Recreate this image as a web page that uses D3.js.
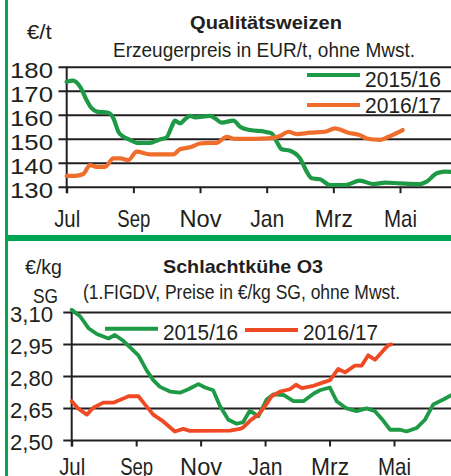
<!DOCTYPE html>
<html>
<head>
<meta charset="utf-8" />
<style>
body { margin:0; background:#fff; }
svg { display:block; }
text { font-family: "Liberation Sans", Arial, sans-serif; fill:#231f20; }
.grid line { stroke:#231f20; stroke-width:2; }
</style>
</head>
<body>
<svg id="chart" width="451" height="476" xmlns="http://www.w3.org/2000/svg"></svg>
<script src="https://cdn.jsdelivr.net/npm/d3@7"></script>
<script>

// month labels (every second month from Jul)
var monthLabels = ["Jul","Sep","Nov","Jan","Mrz","Mai"];
var monthTicks = [0,2,4,6,8,10];

// Qualitaetsweizen, EUR/t  (x = months since 1 July)
var wheatTicks = [130,140,150,160,170,180];
var wheatM15 = [0,0.19,0.4,0.6,0.75,0.9,1.25,1.4,1.55,1.7,1.9,2.1,2.5,2.75,3.0,3.15,3.25,3.4,3.55,3.7,3.85,4.3,4.45,4.65,5.0,5.2,5.5,5.95,6.15,6.3,6.45,6.7,7.0,7.2,7.35,7.6,7.9,8.35,8.8,9.2,9.55,10.0,10.6,10.8,11.1,11.35,11.65];
var wheatV15 = [173.7,174.2,171.7,166,162.7,161.3,160.8,158.5,152.9,150.8,149.5,148.3,148.3,149.5,150.6,155,157.5,156.4,158.1,159.5,158.9,159.5,158.5,156.7,157.5,155,153.6,152.9,152.2,148.8,145.6,145,141.8,136.3,133.5,133.1,130.7,130.7,132.5,131.1,131.7,131.4,131.1,132.1,135.6,136.3,136];
var wheatM16 = [0,0.25,0.5,0.7,0.9,1.15,1.4,1.6,1.85,2.1,2.5,3.2,3.4,3.7,4.0,4.3,4.5,4.8,5.05,5.65,6.05,6.4,6.65,6.9,7.3,7.75,8.05,8.45,8.8,9.0,9.4,9.7,10.08];
var wheatV16 = [134.5,134.5,135.3,139,138.3,138.3,141.8,141.8,141.1,144.6,143.5,143.5,145.6,146.4,148,148.3,148.3,150.8,149.9,149.9,150.1,151.1,152.9,151.9,152.5,152.9,154.3,152.5,151.5,150.1,149.5,151.1,153.6];

// Schlachtkuehe O3, EUR/kg SG
var cowTicks = [2.50,2.65,2.80,2.95,3.10];
var cowM15 = [0,0.26,0.52,0.78,1.14,1.34,1.6,2.07,2.33,2.53,2.74,3.05,3.36,3.62,3.93,4.14,4.39,4.6,4.86,5.12,5.32,5.53,5.79,6.05,6.26,6.57,6.88,7.19,7.5,7.7,8.01,8.22,8.53,8.84,9.15,9.41,9.67,9.88,10.19,10.39,10.7,10.96,11.22,11.53,11.9];
var cowV15 = [3.11,3.08,3.024,2.997,2.976,2.992,2.965,2.897,2.825,2.781,2.749,2.727,2.722,2.738,2.762,2.746,2.733,2.659,2.595,2.576,2.584,2.638,2.611,2.69,2.714,2.711,2.682,2.682,2.717,2.733,2.746,2.682,2.648,2.635,2.648,2.635,2.59,2.548,2.548,2.54,2.556,2.595,2.667,2.69,2.72];
var cowM16 = [0,0.2,0.47,0.67,0.98,1.29,1.6,1.76,2.07,2.27,2.53,2.84,3.2,3.46,3.67,4.91,5.22,5.32,5.53,5.79,6.0,6.21,6.46,6.77,6.96,7.14,7.5,7.81,8.01,8.27,8.48,8.79,9.0,9.2,9.41,9.67,9.82,9.91];
var cowV16 = [2.682,2.648,2.619,2.651,2.675,2.675,2.694,2.705,2.705,2.667,2.619,2.587,2.54,2.552,2.543,2.544,2.552,2.559,2.59,2.619,2.659,2.706,2.727,2.738,2.759,2.743,2.754,2.77,2.78,2.833,2.817,2.849,2.849,2.897,2.876,2.92,2.944,2.948];

var green = "#1e9a47", orange = "#f06e2c", red = "#f04a24", frame = "#00a651";
var svg = d3.select("#chart");

function txt(g, s, x, y, size, len, opts) {
	opts = opts || {};
	return g.append("text")
		.attr("x", x).attr("y", y)
		.attr("font-size", size)
		.attr("font-weight", opts.bold ? "bold" : null)
		.attr("text-anchor", opts.anchor || "start")
		.attr("textLength", len)
		.attr("lengthAdjust", "spacingAndGlyphs")
		.text(s);
}

function panel(p) {
	var g = svg.append("g");
	var x = d3.scaleLinear().domain([0,12]).range([p.x0, p.x0 + 12*p.mw]);
	var y = d3.scaleLinear().domain([p.ticks[0], p.ticks[p.ticks.length-1]]).range([p.yb, p.yt]);

	// gridlines + y labels
	var ya = g.append("g").attr("class","grid")
		.attr("transform","translate(" + p.x0 + ",0)")
		.call(d3.axisLeft(y).tickValues(p.ticks).tickSize(-(451 - p.x0)).tickFormat(p.fmt));
	ya.select(".domain").remove();
	ya.selectAll(".tick line").attr("x1", -(p.x0 - p.gx)).attr("x2", 451 - p.x0);
	ya.selectAll(".tick text").attr("x", 53 - p.x0).attr("dy", 0).attr("y", p.ly)
		.attr("font-size", 21.5).attr("font-family", null).attr("fill", "#231f20")
		.attr("textLength", 43).attr("lengthAdjust", "spacingAndGlyphs");

	// x axis
	var xa = g.append("g").attr("class","grid")
		.attr("transform","translate(0," + p.yb + ")")
		.call(d3.axisBottom(x).tickValues(monthTicks).tickSize(6.5).tickFormat(function(d) { return monthLabels[d/2]; }));
	xa.select(".domain").remove();
	xa.selectAll(".tick text").attr("y", p.xly).attr("dy", 0)
		.attr("font-size", 24).attr("font-family", null).attr("fill", "#231f20")
		.attr("textLength", function(d) { return p.xlw[d/2]; }).attr("lengthAdjust", "spacingAndGlyphs");

	g.append("line").attr("x1", p.x0).attr("x2", p.x0).attr("y1", p.yt).attr("y2", p.yb + 6.5)
		.attr("stroke", "#231f20").attr("stroke-width", 2);

	var line = d3.line().x(function(d) { return x(d[0]); }).y(function(d) { return y(d[1]); }).curve(p.curve);
	p.series.forEach(function(s) {
		g.append("path").datum(d3.zip(s.m, s.v))
			.attr("d", line).attr("fill", "none")
			.attr("stroke", s.color).attr("stroke-width", p.sw)
			.attr("stroke-linejoin", "round").attr("stroke-linecap", "round");
	});
	return g;
}

var topG = panel({
	x0: 66.7, mw: 33.33, yt: 66.7, yb: 186.7, gx: 58.5, ly: 11, xly: 40.5,
	xlw: [26,33,42,34,38,33],
	ticks: wheatTicks, fmt: d3.format("d"), curve: d3.curveMonotoneX, sw: 4.2,
	series: [{m: wheatM15, v: wheatV15, color: green}, {m: wheatM16, v: wheatV16, color: orange}]
});
txt(topG, "Qualitätsweizen", 190, 28.5, 19, 152, {bold: true});
txt(topG, "Erzeugerpreis in EUR/t, ohne Mwst.", 113, 57, 20, 302);
txt(topG, "€/t", 26.7, 39, 20, 25);
topG.append("line").attr("x1", 307).attr("x2", 360).attr("y1", 75).attr("y2", 75).attr("stroke", green).attr("stroke-width", 4.2);
txt(topG, "2015/16", 365, 87, 22, 76);
topG.append("line").attr("x1", 307).attr("x2", 360).attr("y1", 105).attr("y2", 105).attr("stroke", orange).attr("stroke-width", 4.2);
txt(topG, "2016/17", 365, 113, 22, 76);

var botG = panel({
	x0: 71.7, mw: 32.23, yt: 312, yb: 440, gx: 63.3, ly: 9.3, xly: 35,
	xlw: [26,33,42,34,38,33],
	ticks: cowTicks, fmt: function(d) { return d3.format(".2f")(d).replace(".", ","); },
	curve: d3.curveLinear, sw: 3.8,
	series: [{m: cowM15, v: cowV15, color: green}, {m: cowM16, v: cowV16, color: red}]
});
txt(botG, "Schlachtkühe O3", 163, 272.7, 19, 160, {bold: true});
txt(botG, "(1.FIGDV, Preise in €/kg SG, ohne Mwst.", 83, 299.3, 20, 317);
txt(botG, "€/kg", 25, 274, 20, 37);
txt(botG, "SG", 33, 302.7, 20, 25);
botG.append("line").attr("x1", 105).attr("x2", 158).attr("y1", 328.7).attr("y2", 328.7).attr("stroke", green).attr("stroke-width", 4);
txt(botG, "2015/16", 163, 339.5, 22, 75);
botG.append("line").attr("x1", 245).attr("x2", 298).attr("y1", 330).attr("y2", 330).attr("stroke", red).attr("stroke-width", 4);
txt(botG, "2016/17", 303, 339.5, 22, 75);

// green frame
svg.append("rect").attr("x", 5).attr("y", 0).attr("width", 3).attr("height", 476).attr("fill", frame);
svg.append("rect").attr("x", 5).attr("y", 235).attr("width", 446).attr("height", 6).attr("fill", frame);

</script>
</body>
</html>
